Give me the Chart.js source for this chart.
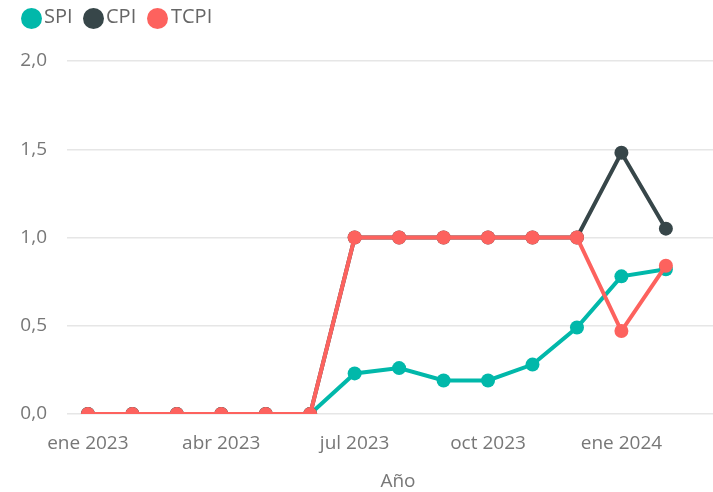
<!DOCTYPE html>
<html>
<head>
<meta charset="utf-8">
<script src="https://cdn.jsdelivr.net/npm/chart.js@4.4.1/dist/chart.umd.min.js"></script>
<style>
    html, body {
        margin: 0;
        padding: 0;
        background: #ffffff;
    }
    #wrap {
        position: relative;
        width: 713px;
        height: 492px;
    }
    #legend .dot {
        position: absolute;
        top: 8px;
        width: 21px;
        height: 21px;
        border-radius: 50%;
    }
    #legend .txt {
        position: absolute;
        top: 6px;
        font-family: "Open Sans", sans-serif;
        font-size: 20px;
        line-height: 20px;
        color: #666666;
        white-space: nowrap;
    }
    #x-title {
        position: absolute;
        left: 348px;
        width: 100px;
        top: 469px;
        text-align: center;
        font-family: "Open Sans", sans-serif;
        font-size: 19px;
        line-height: 23px;
        color: #777777;
    }
</style>
</head>
<body>
<div id="wrap">
    <canvas id="line-chart" width="713" height="492"></canvas>
    <div id="legend"></div>
    <div id="x-title">Año</div>
</div>
<script>
// data
const months = ['ene 2023', 'feb 2023', 'mar 2023', 'abr 2023', 'may 2023', 'jun 2023', 'jul 2023',
    'ago 2023', 'sept 2023', 'oct 2023', 'nov 2023', 'dic 2023', 'ene 2024', 'feb 2024'];
const spiValues = [0, 0, 0, 0, 0, 0, 0.23, 0.26, 0.19, 0.19, 0.28, 0.49, 0.78, 0.82];
const cpiValues = [0, 0, 0, 0, 0, 0, 1, 1, 1, 1, 1, 1, 1.48, 1.05];
const tcpiValues = [0, 0, 0, 0, 0, 0, 1, 1, 1, 1, 1, 1, 0.47, 0.84];
const xTicks = [0, 3, 6, 9, 12];
const yTicks = [0, 0.5, 1, 1.5, 2];

const seriesNames = ['SPI', 'CPI', 'TCPI'];
const seriesColors = ['#01B8AA', '#374649', '#FD625E'];
const legendDots = [21, 83, 147];
const legendTexts = [44, 106, 171];

Chart.defaults.font.family = '"Open Sans", sans-serif';

// html legend
const legend = document.getElementById('legend');
seriesNames.forEach((name, i) => {
    let dot = document.createElement('div');
    dot.className = 'dot';
    dot.style.left = legendDots[i] + 'px';
    dot.style.background = seriesColors[i];
    legend.appendChild(dot);

    let txt = document.createElement('span');
    txt.className = 'txt';
    txt.style.left = legendTexts[i] + 'px';
    txt.textContent = name;
    legend.appendChild(txt);
});

const toPoints = (values) => values.map((v, i) => ({x: i, y: v}));

function makeDataset(name, values, color, order) {
    return {
        label: name,
        data: toPoints(values),
        borderColor: color,
        backgroundColor: color,
        borderWidth: 4,
        pointRadius: 7,
        pointHoverRadius: 7,
        pointBorderWidth: 0,
        pointBackgroundColor: color,
        tension: 0,
        order: order,
    };
}

new Chart(document.getElementById('line-chart'), {
    type: 'line',
    data: {
        datasets: [
            makeDataset('SPI', spiValues, seriesColors[0], 3),
            makeDataset('CPI', cpiValues, seriesColors[1], 2),
            makeDataset('TCPI', tcpiValues, seriesColors[2], 1),
        ],
    },
    options: {
        responsive: false,
        animation: false,
        layout: {
            autoPadding: false,
            padding: {top: 61, right: 0, left: 0, bottom: 0},
        },
        plugins: {
            legend: {display: false},
            tooltip: {enabled: false},
        },
        scales: {
            x: {
                type: 'linear',
                min: -0.47,
                max: 14.06,
                grid: {display: false},
                border: {display: false},
                afterBuildTicks: (scale) => {
                    scale.ticks = xTicks.map(v => ({value: v}));
                },
                afterFit: (scale) => {
                    scale.height = 78;
                    scale.paddingLeft = 0;
                    scale.paddingRight = 0;
                },
                ticks: {
                    autoSkip: false,
                    maxRotation: 0,
                    padding: 10,
                    color: '#777777',
                    font: {size: 19},
                    callback: (value) => months[value],
                },
            },
            y: {
                min: 0,
                max: 2,
                grid: {
                    color: '#e6e6e6',
                    lineWidth: 1.5,
                    drawTicks: false,
                },
                border: {display: false},
                afterBuildTicks: (scale) => {
                    scale.ticks = yTicks.map(v => ({value: v}));
                },
                afterFit: (scale) => {
                    scale.width = 67;
                    scale.paddingTop = 0;
                    scale.paddingBottom = 0;
                },
                ticks: {
                    padding: 20,
                    color: '#777777',
                    font: {size: 19},
                    callback: (value) => value.toFixed(1).replace('.', ','),
                },
            },
        },
    },
});
</script>
</body>
</html>
